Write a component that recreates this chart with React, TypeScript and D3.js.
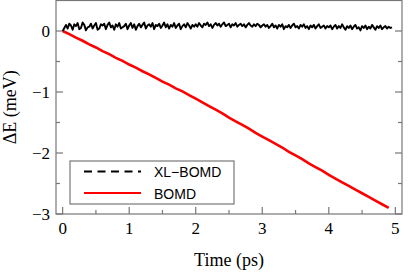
import { useEffect, useRef } from "react";
import * as d3 from "d3";

// time step of the traces (ps)
const xlStep = 0.025;
const bomdStep = 0.1;

// XL-BOMD energy deviation (meV)
const xlBomd = [
  0.0, 0.05, 0.1, 0.04, 0.12, 0.09, 0.02, 0.11, 0.08, 0.13,
  0.03, 0.05, 0.14, 0.1, 0.01, 0.06, 0.07, 0.12, 0.04, 0.09,
  0.13, 0.02, 0.04, 0.11, 0.09, 0.12, 0.03, 0.1, 0.14, 0.06,
  0.09, 0.02, 0.11, 0.07, 0.13, 0.04, 0.06, 0.08, 0.12, 0.03,
  0.09, 0.13, 0.05, 0.11, 0.02, 0.08, 0.12, 0.06, 0.1, 0.14,
  0.04, 0.09, 0.11, 0.07, 0.13, 0.03, 0.1, 0.08, 0.12, 0.05,
  0.09, 0.14, 0.06, 0.11, 0.04, 0.1, 0.07, 0.13, 0.05, 0.09,
  0.12, 0.03, 0.08, 0.11, 0.06, 0.13, 0.09, 0.04, 0.1, 0.07,
  0.11, 0.07, 0.13, 0.09, 0.06, 0.12, 0.1, 0.14, 0.08, 0.11,
  0.05, 0.1, 0.13, 0.09, 0.12, 0.07, 0.11, 0.14, 0.08, 0.1,
  0.12, 0.06, 0.11, 0.09, 0.13, 0.07, 0.1, 0.12, 0.08, 0.11,
  0.06, 0.1, 0.13, 0.09, 0.07, 0.11, 0.08, 0.12, 0.1, 0.06,
  0.09, 0.11, 0.07, 0.1, 0.05, 0.08, 0.12, 0.06, 0.09, 0.04,
  0.1, 0.07, 0.11, 0.03, 0.08, 0.06, 0.1, 0.05, 0.09, 0.12,
  0.06, 0.08, 0.04, 0.1, 0.07, 0.11, 0.05, 0.08, 0.03, 0.09,
  0.06, 0.1, 0.04, 0.08, 0.11, 0.05, 0.07, 0.09, 0.04, 0.08,
  0.06, 0.09, 0.03, 0.07, 0.1, 0.04, 0.08, 0.05, 0.11, 0.06,
  0.02, 0.08, 0.05, 0.09, 0.03, 0.07, 0.1, 0.04, 0.06, 0.01,
  0.08, 0.05, 0.09, 0.03, 0.07, 0.04, 0.1, 0.06, 0.02, 0.08,
  0.05, 0.09, 0.03, 0.06, 0.08, 0.04, 0.07, 0.05, 0.06,
];

// BOMD energy drift (meV)
const bomd = [
  0, -0.05, -0.11, -0.16, -0.22, -0.27, -0.33, -0.38, -0.44, -0.49,
  -0.55, -0.6, -0.66, -0.71, -0.77, -0.83, -0.88, -0.94, -0.99, -1.05,
  -1.11, -1.17, -1.23, -1.29, -1.35, -1.42, -1.48, -1.54, -1.6, -1.67,
  -1.73, -1.79, -1.85, -1.91, -1.98, -2.04, -2.1, -2.17, -2.23, -2.29,
  -2.36, -2.42, -2.48, -2.54, -2.6, -2.66, -2.72, -2.78, -2.84, -2.9,
];

const xTicks = [0, 1, 2, 3, 4, 5];
const yTicks = [0, -1, -2, -3];
const legendLabels = ["XL\u2212BOMD", "BOMD"];

const serif = "'Liberation Serif', 'Times New Roman', serif";
const sans = "'Liberation Sans', Arial, sans-serif";
const axisColor = "#777";

function Chart() {
  const ref = useRef(null);

  useEffect(() => {
    const svg = d3.select(ref.current);
    svg.selectAll("*").remove();

    const left = 56,
      right = 402,
      top = 0.5,
      bottom = 214;

    const x = d3.scaleLinear().domain([-0.1, 5.1]).range([left, right]);
    const y = d3.scaleLinear().domain([-3, 0.5]).range([bottom, top]);

    const minorX = d3.range(0.5, 5, 1);
    const minorY = d3.range(-2.5, 0.5, 1);

    const g = svg.append("g");

    // frame
    g.append("rect")
      .attr("x", left)
      .attr("y", top)
      .attr("width", right - left)
      .attr("height", bottom - top)
      .attr("fill", "none")
      .attr("stroke", axisColor)
      .attr("stroke-width", 1.2);

    // ticks, pointing inwards
    const tick = (x1, y1, x2, y2) =>
      g.append("line")
        .attr("x1", x1)
        .attr("y1", y1)
        .attr("x2", x2)
        .attr("y2", y2)
        .attr("stroke", axisColor)
        .attr("stroke-width", 1.2);

    xTicks.forEach((t) => tick(x(t), bottom, x(t), bottom - 7));
    minorX.forEach((t) => tick(x(t), bottom, x(t), bottom - 4));
    yTicks.forEach((v) => {
      tick(left, y(v), left + 7, y(v));
      tick(right, y(v), right - 7, y(v));
    });
    minorY.forEach((v) => {
      tick(left, y(v), left + 4, y(v));
      tick(right, y(v), right - 4, y(v));
    });

    // tick labels
    const fmt = d3.format("d");
    g.append("g")
      .selectAll("text")
      .data(xTicks)
      .join("text")
      .attr("x", (d) => x(d))
      .attr("y", 234)
      .attr("text-anchor", "middle")
      .attr("font-family", serif)
      .attr("font-size", 17)
      .text((d) => fmt(d));

    g.append("g")
      .selectAll("text")
      .data(yTicks)
      .join("text")
      .attr("x", 50)
      .attr("y", (d) => y(d))
      .attr("dy", "0.33em")
      .attr("text-anchor", "end")
      .attr("font-family", serif)
      .attr("font-size", 17)
      .text((d) => fmt(d));

    // axis titles
    g.append("text")
      .attr("x", (left + right) / 2)
      .attr("y", 266)
      .attr("text-anchor", "middle")
      .attr("font-family", serif)
      .attr("font-size", 18)
      .text("Time (ps)");

    g.append("text")
      .attr("transform", `translate(16, ${(top + bottom) / 2}) rotate(-90)`)
      .attr("text-anchor", "middle")
      .attr("font-family", serif)
      .attr("font-size", 18)
      .text("\u0394E (meV)");

    // traces
    const line = d3
      .line()
      .x((d) => x(d[0]))
      .y((d) => y(d[1]));

    g.append("path")
      .datum(bomd.map((v, i) => [i * bomdStep, v]))
      .attr("fill", "none")
      .attr("stroke", "#ff0000")
      .attr("stroke-width", 2.6)
      .attr("d", line);

    g.append("path")
      .datum(xlBomd.map((v, i) => [i * xlStep, v]))
      .attr("fill", "none")
      .attr("stroke", "#000")
      .attr("stroke-width", 1.9)
      .attr("stroke-linejoin", "round")
      .attr("d", line);

    // legend
    const lg = g.append("g");
    lg.append("rect")
      .attr("x", 70)
      .attr("y", 161)
      .attr("width", 164)
      .attr("height", 43)
      .attr("fill", "#fff")
      .attr("stroke", axisColor)
      .attr("stroke-width", 1.2);

    const legendRows = [
      { color: "#000", dash: "8,5.5", cy: 171.5 },
      { color: "#ff0000", dash: null, cy: 193 },
    ];
    legendRows.forEach((r, i) => {
      lg.append("line")
        .attr("x1", 84)
        .attr("x2", 141)
        .attr("y1", r.cy)
        .attr("y2", r.cy)
        .attr("stroke", r.color)
        .attr("stroke-width", 2)
        .attr("stroke-dasharray", r.dash);
      lg.append("text")
        .attr("x", 154)
        .attr("y", r.cy + 5.5)
        .attr("font-family", sans)
        .attr("font-size", 14)
        .text(legendLabels[i]);
    });

    return () => {
      svg.selectAll("*").remove();
    };
  });

  return (
    <svg
      ref={ref}
      width={415}
      height={273}
      style={{ position: "absolute", left: 0, top: 0, background: "#fff" }}
    />
  );
}

export default function App() {
  return <Chart />;
}
